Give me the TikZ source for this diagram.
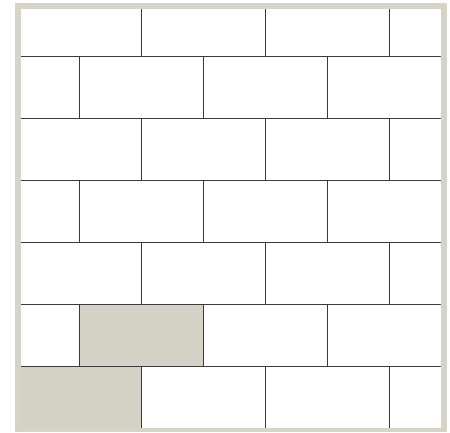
\documentclass[tikz,border=0pt]{standalone}
\definecolor{framecol}{HTML}{D6D3C7}
\definecolor{brickfill}{HTML}{D4D1C5}
\definecolor{mortar}{HTML}{3A3A3A}
\tikzset{
  brick/.style={draw=mortar, line width=0.9pt, fill=white},
  hibrick/.style={draw=mortar, line width=0.9pt, fill=brickfill},
}
\begin{document}
\begin{tikzpicture}[x=1pt,y=-1pt]
\useasboundingbox (0,0) rectangle (450,432);
\fill[framecol] (15,3) rectangle (447,432);
\fill[white] (21,9) rectangle (440.5,427.8);
\begin{scope}
\clip (21,9) rectangle (440.5,427.8);
\foreach \r in {0,...,6} {
  \pgfmathsetmacro{\ytop}{-5.3+62*\r}
  \pgfmathsetmacro{\ybot}{\ytop+62}
  \pgfmathsetmacro{\xoff}{mod(\r,2)==0 ? 17 : -45}
  \foreach \c in {0,...,4} {
    \pgfmathsetmacro{\xl}{\xoff+124*\c}
    \pgfmathsetmacro{\xr}{\xl+124}
    \draw[brick] (\xl,\ytop) rectangle (\xr,\ybot);
  }
}
\draw[hibrick] (79,304.7) rectangle (203,366.7);
\draw[hibrick] (17,366.7) rectangle (141,428.7);
\end{scope}
\end{tikzpicture}
\end{document}
